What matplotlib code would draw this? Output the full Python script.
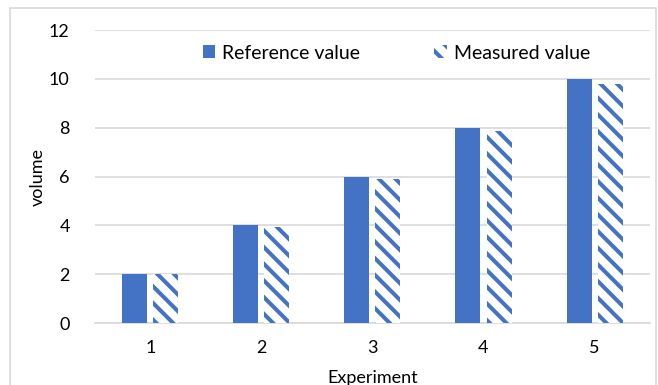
import matplotlib.pyplot as plt
import numpy as np
from matplotlib.patches import Rectangle

experiments = ["1", "2", "3", "4", "5"]
reference_value = [2, 4, 6, 8, 10]
measured_value = [2.0, 3.95, 5.9, 7.85, 9.8]

blue = "#4472c4"
grid_grey = "#d9d9d9"

plt.rcParams["font.family"] = ["Lato", "DejaVu Sans"]
plt.rcParams["hatch.linewidth"] = 2.9

fig = plt.figure(figsize=(6.58, 3.85), dpi=100)
ax = fig.add_axes([0.144, 0.161, 0.844, 0.761])

# light frame around the whole chart
fig.patches.append(Rectangle((0.015, -0.05), 0.982, 1.03, transform=fig.transFigure,
                             fill=False, edgecolor=grid_grey, linewidth=1.2))

x = np.arange(len(experiments))
width = 0.225
offset = 0.14

ax.bar(x - offset, reference_value, width, color=blue, label="Reference value", zorder=3)
ax.bar(x + offset, measured_value, width, color="white", edgecolor=blue, linewidth=0,
       hatch="\\\\", label="Measured value", zorder=3)

ax.set_xlim(-0.5, len(experiments) - 0.5)
ax.set_ylim(0, 12)
ax.set_yticks(range(0, 13, 2))
ax.set_xticks(x)
ax.set_xticklabels(experiments)
ax.yaxis.grid(True, color=grid_grey, linewidth=1.2, zorder=0)
ax.set_axisbelow(True)

for side in ["top", "right", "left"]:
    ax.spines[side].set_visible(False)
ax.spines["bottom"].set_color(grid_grey)
ax.spines["bottom"].set_linewidth(1.2)
ax.tick_params(length=0, labelsize=13, colors="#000000", pad=12)
ax.tick_params(axis="y", pad=18)

ax.set_xlabel("Experiment", fontsize=13, labelpad=10)
ax.set_ylabel("volume", fontsize=13, labelpad=2)

ax.legend(loc="upper center", bbox_to_anchor=(0.543, 1.01), ncol=2, frameon=False,
          fontsize=14, handlelength=0.65, handleheight=0.65, columnspacing=3.8,
          handletextpad=0.35)

fig.savefig("out.png", dpi=100)
